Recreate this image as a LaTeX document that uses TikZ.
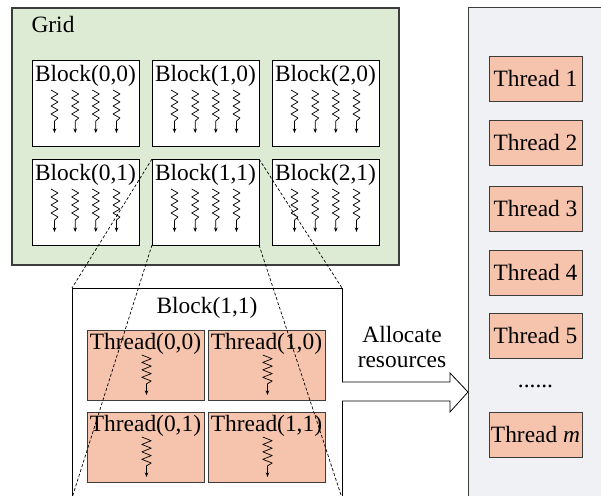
\documentclass[tikz,border=0pt]{standalone}
\usepackage{fontspec}
\setmainfont{Liberation Serif}
\usetikzlibrary{calc,arrows.meta}

\definecolor{gridfill}{RGB}{221,235,213}
\definecolor{thrfill}{RGB}{246,196,172}
\definecolor{panelfill}{RGB}{240,241,244}
\definecolor{edge}{RGB}{60,60,60}

\tikzset{
  box/.style={draw=edge, line width=0.9bp, inner sep=0, outer sep=0, anchor=north west},
  gridbox/.style={box, fill=gridfill, line width=1.1bp, minimum width=387bp, minimum height=257bp},
  blockbox/.style={box, draw=black, fill=white, minimum width=107bp, minimum height=86bp},
  bigbox/.style={box, draw=black, fill=white, line width=0.8bp, minimum width=270bp, minimum height=210bp},
  thrbox/.style={box, fill=thrfill, minimum width=117bp, minimum height=70bp},
  panel/.style={box, fill=panelfill, line width=0.8bp, minimum width=150bp, minimum height=520bp},
  slot/.style={box, fill=thrfill, minimum width=93bp, minimum height=45bp},
  lbl/.style={inner sep=0, outer sep=0, anchor=base},
  zoomline/.style={draw=black, line width=0.7bp, dash pattern=on 3bp off 2bp},
  wavearrow/.style={draw=black, line width=0.7bp, line join=round, -{Stealth[length=4.5bp,width=3.5bp]}},
  fatarrow/.style={draw=black, fill=white, line width=0.8bp, line join=miter},
  pics/wavy/.style={code={
    \draw[wavearrow] (-3.5,0) -- (3.5,4) -- (-3.5,8) -- (3.5,12) -- (-3.5,16)
      -- (3.5,20) -- (-3.5,24) -- (3.5,28) -- (0,31) -- (0,43);
  }},
}

\begin{document}
\begin{tikzpicture}[x=1bp, y=-1bp, font=\fontsize{23.5}{27}\selectfont]
  \useasboundingbox (0,0) rectangle (601,496);
  \clip (0,0) rectangle (601,496);

  % Grid with its six blocks
  \node[gridbox] (grid) at (12,8) {};
  \node[lbl] (gridlbl) at (53,33) {Grid};

  \foreach \i/\x in {0/32, 1/152, 2/272} {
    \foreach \j/\y in {0/60, 1/159} {
      \node[blockbox] (b\i\j) at (\x,\y) {};
      \node[lbl] (bl\i\j) at ($(b\i\j.north)+(0,22)$) {Block(\i,\j)};
      \foreach \dx in {-31,-10.3,10.3,31}
        \pic at ($(b\i\j.north)+(\dx,30)$) {wavy};
    }
  }

  % Right-hand panel of allocated threads
  \node[panel] (pn) at (468,7) {};
  \foreach \k/\y in {1/56, 2/120, 3/186, 4/250, 5/313} {
    \node[slot] (s\k) at (489,\y) {};
    \node (sl\k) at (s\k.center) {Thread \k};
  }
  \node[lbl] (dots) at ($(s5.south)+(0,29)$) {......};
  \node[slot] (sm) at (489,412) {};
  \node (slm) at (sm.center) {Thread \textit{m}};

  % Enlarged Block(1,1)
  \node[bigbox] (bb) at (72,288) {};
  \node[lbl] (bblbl) at ($(bb.north)+(0,25)$) {Block(1,1)};
  \foreach \i/\x in {0/87, 1/208} {
    \foreach \j/\y in {0/330, 1/412} {
      \node[thrbox] (t\i\j) at (\x,\y) {};
      \node[lbl] (tl\i\j) at ($(t\i\j.north)+(0,19)$) {Thread(\i,\j)};
      \pic[yscale=0.93, xscale=1.35] at ($(t\i\j.north)+(1,25)$) {wavy};
    }
  }

  % Zoom lines from Block(1,1) to its enlargement
  \draw[zoomline] (b11.north west) -- (bb.north west);
  \draw[zoomline] (b11.north east) -- (bb.north east);
  \draw[zoomline] (b11.south west) -- (bb.south west);
  \draw[zoomline] (b11.south east) -- (bb.south east);

  % Resource allocation arrow
  \coordinate (ha) at (450,382);
  \draw[fatarrow] (bb.east |- ha) -- (ha) -- ++(0,-9)
    -- (pn.west |- 0,392) -- (450,412) -- (450,401) -- (bb.east |- 0,401);
  \node[lbl] (al1) at (402,342) {Allocate};
  \node[lbl] (al2) at (402,367) {resources};
\end{tikzpicture}
\end{document}
